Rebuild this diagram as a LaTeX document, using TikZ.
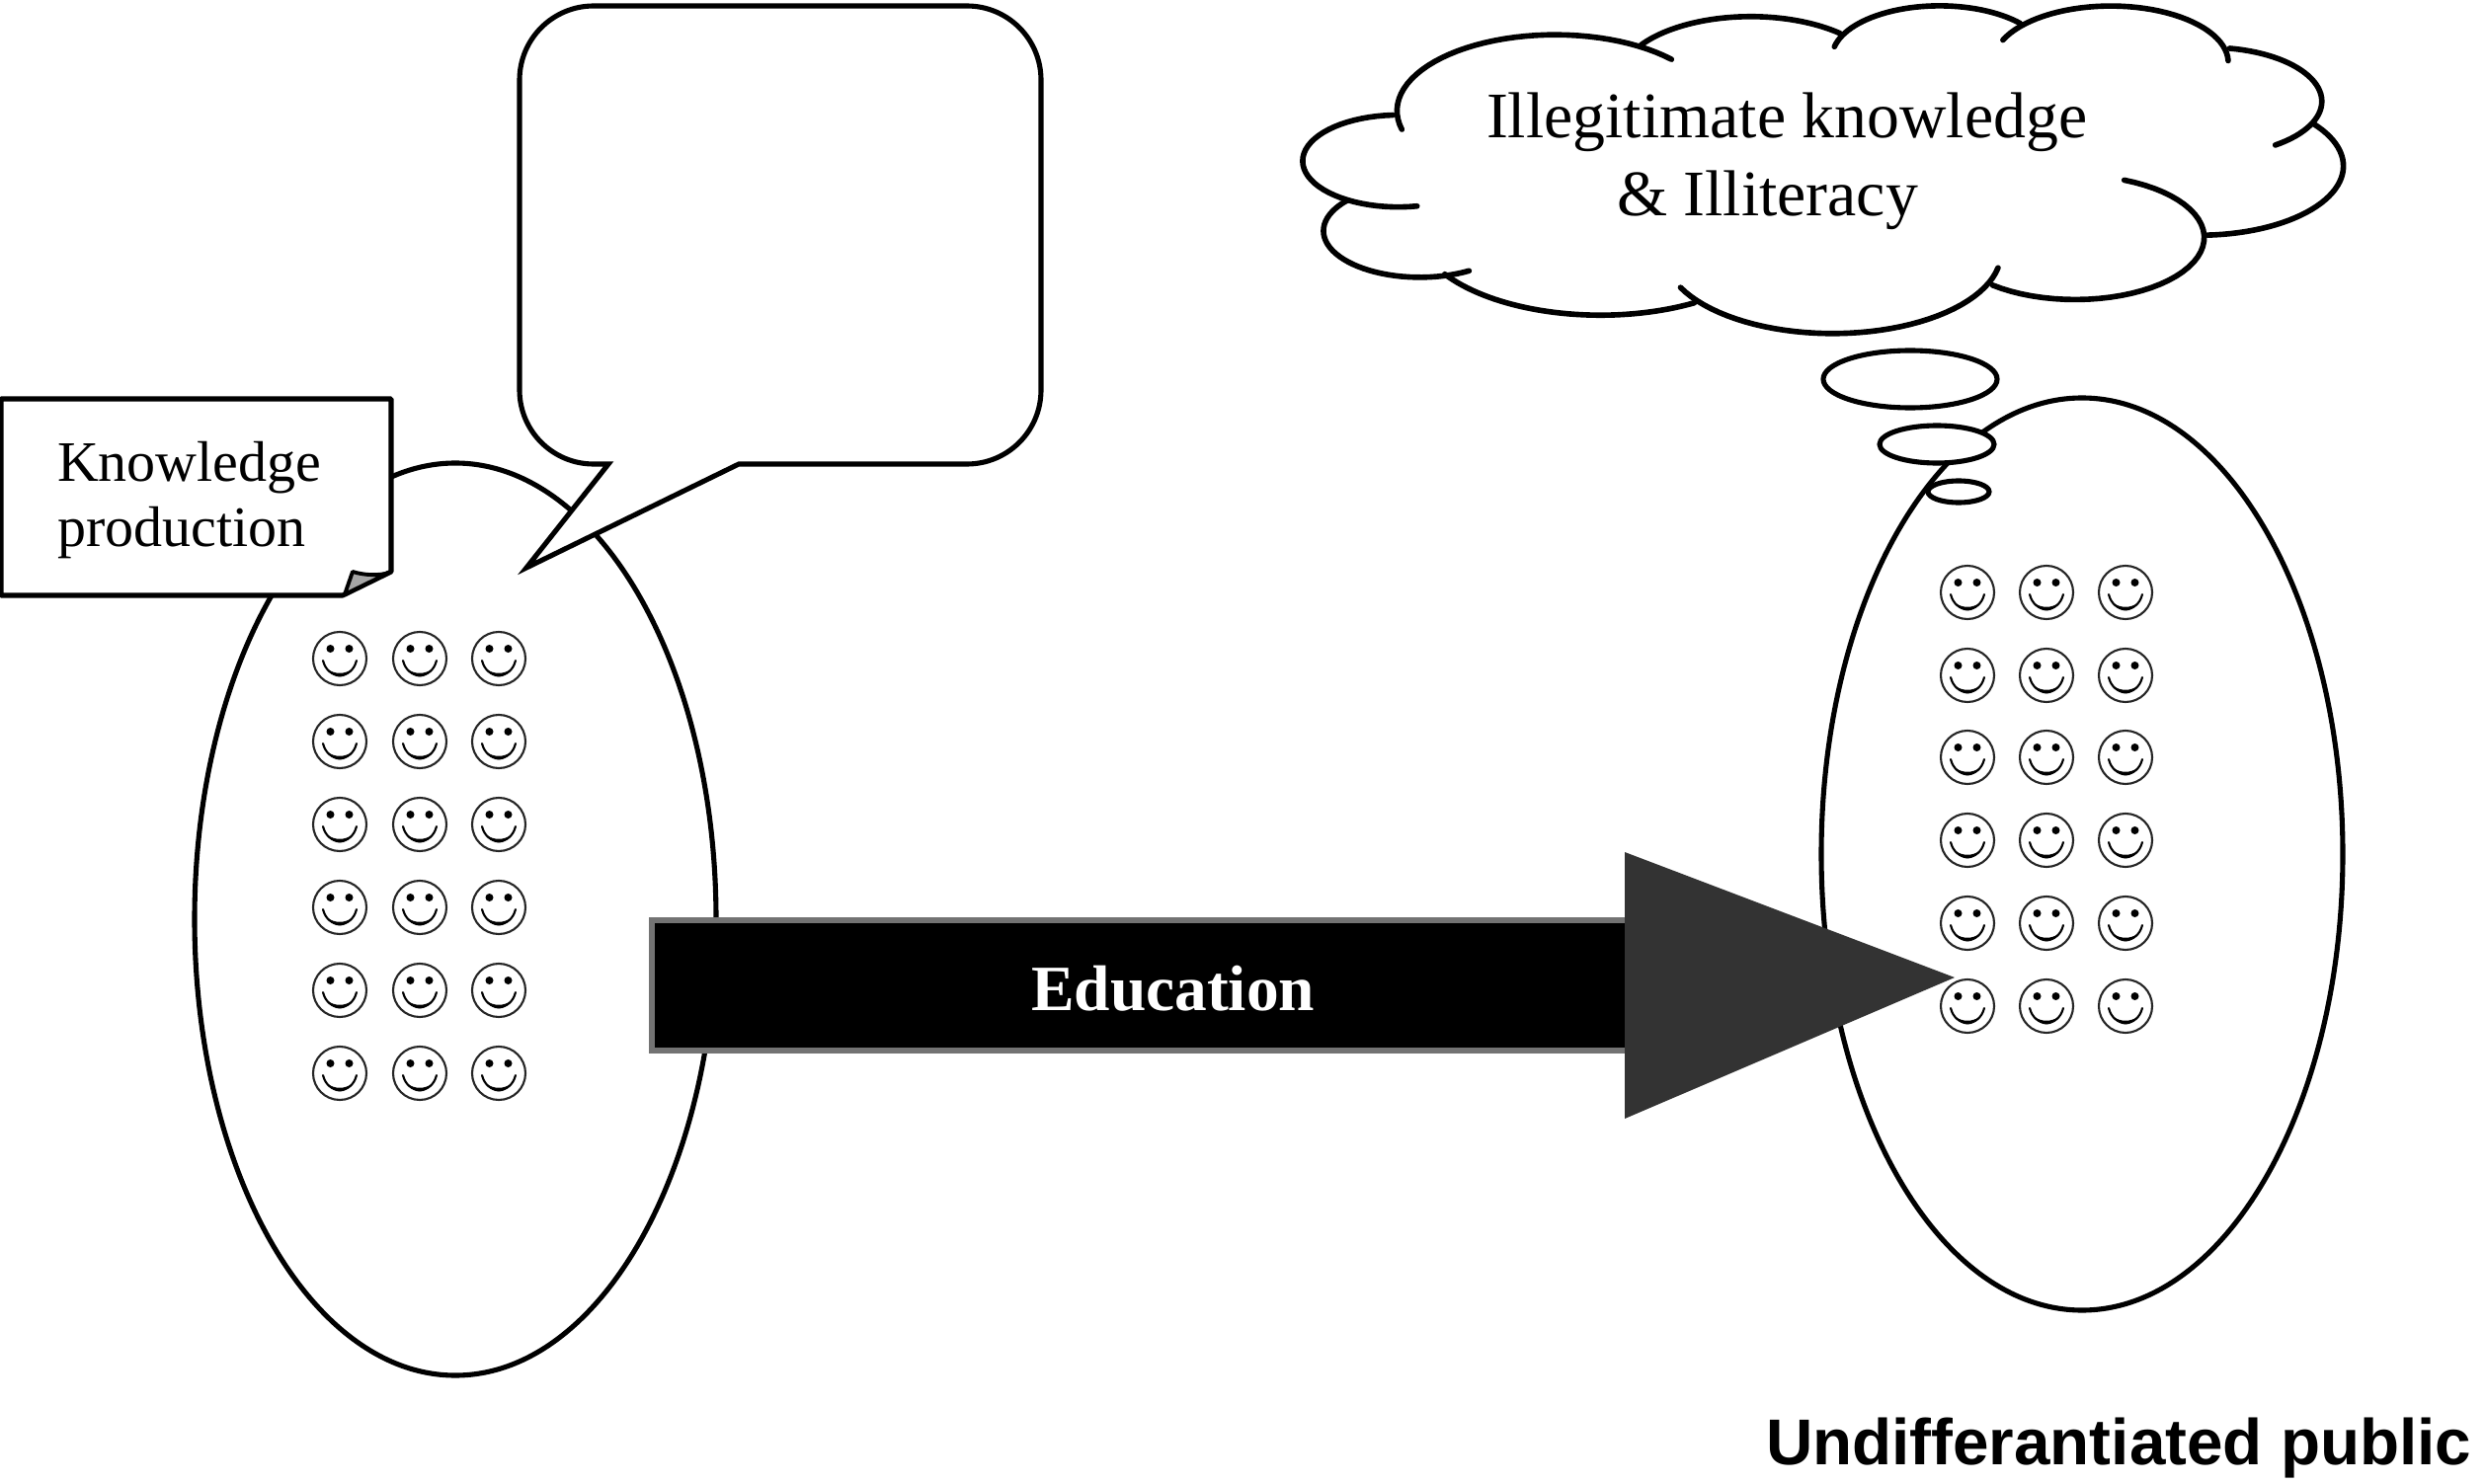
\documentclass[tikz,border=0pt]{standalone}
\usepackage{fontspec}
\setmainfont{Liberation Serif}
\newfontfamily\arialb[BoldFont={Liberation Sans Bold}]{Liberation Sans}
\tikzset{
  x=0.01cm,y=-0.01cm,
  ol/.style={draw=black,line width=1.45pt,fill=white},
  olopen/.style={draw=black,line width=1.6pt,line cap=round,line join=round},
  lab/.style={inner sep=0,outer sep=0,anchor=base west,text=black},
  smiley/.pic={
    \draw[black!85,line width=0.6pt,fill=white] (0,0) ellipse [x radius=27,y radius=27];
    \fill[black] (-9.5,-10) circle (4) (9.5,-10) circle (4);
    \draw[black,line width=0.6pt,line cap=round] (-17,2) .. controls (-12,22) and (12,22) .. (17,2);
    \fill[black] (-12,11) .. controls (-5,16) and (5,16) .. (12,11) .. controls (6,21) and (-6,21) .. (-12,11) -- cycle;
  }
}
% one cloud lobe: the circular arc, taken clockwise, through three points given in hundreds
\newcommand\cloudlobe[6]{%
  \pgfmathsetmacro\lobeD{2*(#1*(#4-#6)+#3*(#6-#2)+#5*(#2-#4))}%
  \pgfmathsetmacro\lobeUx{((#1*#1+#2*#2)*(#4-#6)+(#3*#3+#4*#4)*(#6-#2)+(#5*#5+#6*#6)*(#2-#4))/\lobeD}%
  \pgfmathsetmacro\lobeUy{((#1*#1+#2*#2)*(#5-#3)+(#3*#3+#4*#4)*(#1-#5)+(#5*#5+#6*#6)*(#3-#1))/\lobeD}%
  \pgfmathsetmacro\lobeR{veclen(#1-\lobeUx,#2-\lobeUy)}%
  \pgfmathsetmacro\lobeA{atan2(#2-\lobeUy,#1-\lobeUx)}%
  \pgfmathsetmacro\lobeB{atan2(#6-\lobeUy,#5-\lobeUx)}%
  \pgfmathsetmacro\lobeE{\lobeB<\lobeA ? \lobeB+360 : \lobeB}%
  \draw[olopen] plot[domain=\lobeA:\lobeE,samples=40,variable=\t] ({100*(\lobeUx+\lobeR*cos(\t))},{100*(\lobeUy+\lobeR*sin(\t))});%
}
\begin{document}
\begin{tikzpicture}
\useasboundingbox (0,0) rectangle (2517,1503);
% ellipses
\draw[ol] (461,931) ellipse [x radius=264,y radius=462];
\draw[ol] (2108,865) ellipse [x radius=264,y radius=462];
% speech balloon
\draw[ol,line join=miter] (601,6) -- (979,6) arc[start angle=90,end angle=0,x radius=75,y radius=-75] -- (1054,395)
  arc[start angle=0,end angle=-90,x radius=75,y radius=-75] -- (748,470) -- (533,575) -- (616,470) -- (601,470)
  arc[start angle=-90,end angle=-180,x radius=75,y radius=-75] -- (526,81)
  arc[start angle=180,end angle=90,x radius=75,y radius=-75] -- cycle;
% folded note
\draw[ol,line join=bevel] (1,404) -- (396,404) -- (396,579) -- (347,603) -- (1,603) -- cycle;
\draw[black,line width=1.1pt,line join=bevel,fill=black!35] (349,602) -- (357,579) .. controls (370,583) and (384,583) .. (394,580) -- cycle;
\node[lab,font=\fontsize{16.5}{18}\selectfont] (know) at (58,487) {Knowledge};
\node[lab,font=\fontsize{16.5}{18}\selectfont] (prod) at (58,554) {production};
% cloud
\begin{scope}[x=0.01cm/1.425,y=-0.01cm/2.96,shift={(1280*1.425,0)}]
\cloudlobe{1.98}{3.88}{3.10}{1.32}{5.87}{1.78}
\cloudlobe{5.43}{1.35}{6.90}{0.50}{8.30}{1.00}
\cloudlobe{8.22}{1.40}{9.60}{0.18}{10.90}{0.70}
\cloudlobe{10.65}{1.20}{12.20}{0.18}{13.90}{1.82}
\cloudlobe{13.92}{1.45}{15.25}{3.00}{14.58}{4.35}
\cloudlobe{15.12}{3.70}{15.55}{5.20}{13.60}{7.05}
\cloudlobe{12.40}{5.40}{13.55}{7.00}{10.50}{8.55}
\cloudlobe{10.58}{8.03}{8.20}{10.00}{6.00}{8.62}
\cloudlobe{6.20}{9.08}{4.80}{9.45}{2.60}{8.22}
\cloudlobe{2.95}{8.12}{0.85}{6.90}{1.20}{6.00}
\cloudlobe{2.20}{6.18}{0.55}{4.80}{1.85}{3.45}
\end{scope}
\node[lab,font=\fontsize{18.7}{20}\selectfont] (ill) at (1505,140) {Illegitimate knowledge};
\node[lab,font=\fontsize{18.7}{20}\selectfont] (illit) at (1637,219) {\& Illiteracy};
% thought bubbles
\draw[ol] (1934,384) ellipse [x radius=88,y radius=29];
\draw[ol] (1961,450) ellipse [x radius=58,y radius=19];
\draw[ol] (1983,498) ellipse [x radius=31,y radius=11];
% smileys
\foreach \cx in {344,425,505} \foreach \cy in {667,751,835,919,1003,1087}
  \pic at (\cx,\cy) {smiley};
\foreach \cx in {1992,2072,2152} \foreach \cy in {600,684,767,851,935,1019}
  \pic at (\cx,\cy) {smiley};
% arrow
\draw[draw=black!55,line width=1.9pt,fill=black] (660,932) rectangle (1650,1064);
\fill[black!80] (1645,863) -- (1979,990) -- (1645,1133) -- cycle;
\node[lab,font=\fontsize{18.6}{20}\selectfont\bfseries,text=white] (edu) at (1044,1023) {Education};
% caption
\node[lab,font=\arialb\fontsize{18.65}{20}\selectfont\bfseries] (pub) at (1788,1483) {Undifferantiated public};
\end{tikzpicture}
\end{document}
